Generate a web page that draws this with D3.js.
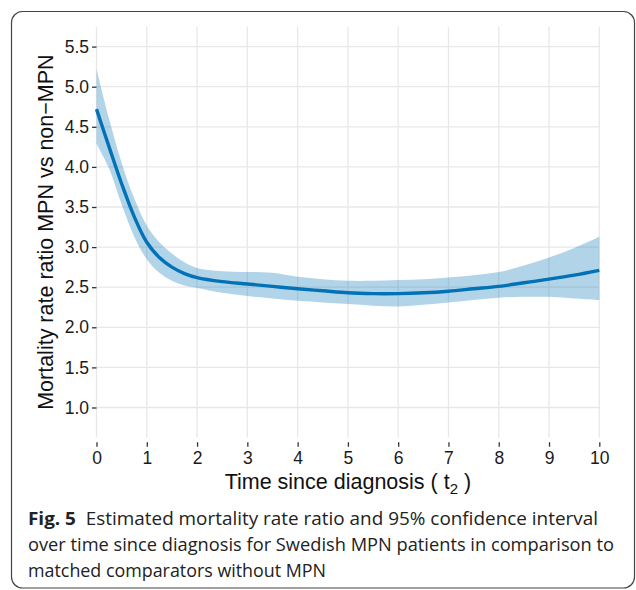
<!DOCTYPE html>
<html>
<head>
<meta charset="utf-8">
<script src="https://cdn.jsdelivr.net/npm/d3@7"></script>
<style>
  html, body { margin: 0; padding: 0; background: #fff; }
  svg { display: block; }
</style>
</head>
<body>
<svg id="chart" width="636" height="590"></svg>
<script>
// ---- data ----
const timePoints = [0, 0.25, 0.5, 0.75, 1, 1.25, 1.5, 1.75, 2, 2.5, 3, 3.5, 4, 4.5, 5, 5.5, 6, 6.5, 7, 7.5, 8, 8.5, 9, 9.5, 10];
const ratioEstimate = [4.72, 4.25, 3.79, 3.38, 3.06, 2.87, 2.75, 2.67, 2.62, 2.57, 2.54, 2.51, 2.48, 2.455, 2.43, 2.42, 2.42, 2.43, 2.45, 2.48, 2.51, 2.555, 2.60, 2.65, 2.71];
const ratioUpper    = [5.22, 4.60, 4.05, 3.61, 3.27, 3.06, 2.92, 2.81, 2.74, 2.70, 2.69, 2.68, 2.63, 2.60, 2.58, 2.58, 2.59, 2.60, 2.62, 2.65, 2.69, 2.77, 2.87, 2.99, 3.13];
const ratioLower    = [4.29, 3.98, 3.53, 3.13, 2.85, 2.68, 2.58, 2.52, 2.49, 2.43, 2.39, 2.36, 2.33, 2.31, 2.29, 2.27, 2.26, 2.28, 2.31, 2.34, 2.37, 2.38, 2.38, 2.36, 2.34];
const xTicks = [0, 1, 2, 3, 4, 5, 6, 7, 8, 9, 10];
const yTicks = [1.0, 1.5, 2.0, 2.5, 3.0, 3.5, 4.0, 4.5, 5.0, 5.5];
const yTitle = "Mortality rate ratio MPN vs non\u2212MPN";
const captionBold = "Fig. 5";
const captionLines = [
  "Estimated mortality rate ratio and 95% confidence interval",
  "over time since diagnosis for Swedish MPN patients in comparison to",
  "matched comparators without MPN"
];

const rows = timePoints.map((t, i) => ({ t, est: ratioEstimate[i], lo: ratioLower[i], hi: ratioUpper[i] }));

const svg = d3.select("#chart");
const lineColor = "#0072B5";
const font = "'Liberation Sans', Arial, Helvetica, sans-serif";

// frame
svg.append("rect")
  .attr("x", 11.5).attr("y", 11.5).attr("width", 623).attr("height", 576.5)
  .attr("rx", 11).attr("ry", 11)
  .attr("fill", "#fff").attr("stroke", "#444").attr("stroke-width", 1.2);

// panel
const panel = { left: 96.5, right: 599.3, top: 26.7, bottom: 437.5 };
const x = d3.scaleLinear().domain([0, 10]).range([panel.left, panel.right]);
const y = d3.scaleLinear().domain([0.626, 5.748]).range([panel.bottom, panel.top]);

// gridlines
const grid = svg.append("g");
grid.selectAll("line.h").data(yTicks).join("line")
  .attr("x1", panel.left).attr("x2", panel.right)
  .attr("y1", d => y(d)).attr("y2", d => y(d))
  .attr("stroke", "#e8e8e8").attr("stroke-width", 1.3);
grid.selectAll("line.v").data(xTicks).join("line")
  .attr("x1", d => x(d)).attr("x2", d => x(d))
  .attr("y1", panel.top).attr("y2", panel.bottom)
  .attr("stroke", "#e8e8e8").attr("stroke-width", 1.3);

// confidence band
const curve = d3.curveCatmullRom.alpha(0.5);
const area = d3.area()
  .x(d => x(d.t)).y0(d => y(d.lo)).y1(d => y(d.hi))
  .curve(curve);
svg.append("path").datum(rows)
  .attr("d", area)
  .attr("fill", lineColor).attr("fill-opacity", 0.3);

// estimate line
const line = d3.line().x(d => x(d.t)).y(d => y(d.est)).curve(curve);
svg.append("path").datum(rows)
  .attr("d", line)
  .attr("fill", "none").attr("stroke", lineColor).attr("stroke-width", 3.4);

// y axis
const yAxis = d3.axisLeft(y).tickValues(yTicks).tickFormat(d3.format(".1f")).tickSize(4.5).tickPadding(3);
const gy = svg.append("g").attr("transform", `translate(${panel.left},0)`).call(yAxis);
gy.select(".domain").remove();
gy.selectAll(".tick line").attr("stroke", "#333").attr("stroke-width", 1.3);
gy.selectAll(".tick text").attr("fill", "#1a1a1a").style("font-family", font).style("font-size", "17.5px");

// x axis
const xAxis = d3.axisBottom(x).tickValues(xTicks).tickFormat(d3.format("d")).tickSize(4.5).tickPadding(5);
const gx = svg.append("g").attr("transform", `translate(0,${panel.bottom + 4.7})`).call(xAxis);
gx.select(".domain").remove();
gx.selectAll(".tick line").attr("stroke", "#333").attr("stroke-width", 1.3);
gx.selectAll(".tick text").attr("fill", "#1a1a1a").style("font-family", font).style("font-size", "17.5px");

// axis titles
const xt = svg.append("text")
  .attr("x", (panel.left + panel.right) / 2).attr("y", 489)
  .attr("text-anchor", "middle")
  .style("font-family", font).style("font-size", "21.5px").attr("fill", "#111");
xt.append("tspan").text("Time since diagnosis ( t");
xt.append("tspan").attr("dy", 5).style("font-size", "15px").text("2");
xt.append("tspan").attr("dy", -5).text(" )");

svg.append("text")
  .attr("transform", `translate(53,${(panel.top + panel.bottom) / 2}) rotate(-90)`)
  .attr("text-anchor", "middle")
  .style("font-family", font).style("font-size", "21.5px").attr("fill", "#111")
  .text(yTitle);

// caption
const capFont = "'Open Sans', 'Noto Sans', sans-serif";
const capWidths = [570, 586, 298];
const capY = [525, 551, 577];
captionLines.forEach((txt, i) => {
  const t = svg.append("text")
    .attr("x", 28).attr("y", capY[i])
    .style("font-family", capFont).style("font-size", "18px").attr("fill", "#222")
    .attr("textLength", capWidths[i]).attr("lengthAdjust", "spacingAndGlyphs");
  if (i === 0) {
    t.append("tspan").style("font-weight", "bold").text(captionBold);
    t.append("tspan").text("\u00a0\u00a0" + txt);
  } else {
    t.text(txt);
  }
});
</script>
</body>
</html>
